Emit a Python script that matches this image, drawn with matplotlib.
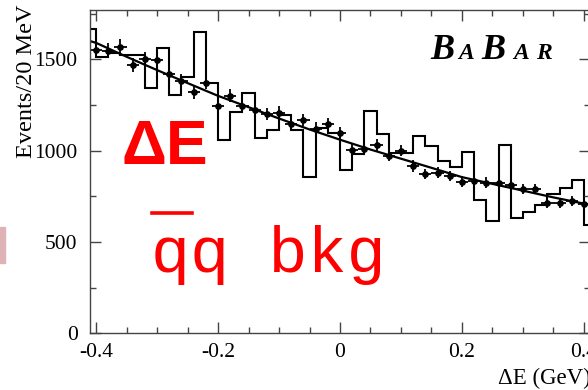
import matplotlib
matplotlib.use("Agg")
import matplotlib.pyplot as plt
from matplotlib.lines import Line2D
from matplotlib.patches import Rectangle
from matplotlib.ticker import MultipleLocator, FuncFormatter
import numpy as np

plt.rcParams["font.family"] = ["Liberation Serif", "DejaVu Serif"]
plt.rcParams["axes.unicode_minus"] = False

# data points (delta E bin centres, events per 20 MeV)
de_points = [-0.40, -0.38, -0.36, -0.34, -0.32, -0.30, -0.28, -0.26, -0.24, -0.22,
             -0.20, -0.18, -0.16, -0.14, -0.12, -0.10, -0.08, -0.06, -0.04, -0.02,
             0.00, 0.02, 0.04, 0.06, 0.08, 0.10, 0.12, 0.14, 0.16, 0.18,
             0.20, 0.22, 0.24, 0.26, 0.28, 0.30, 0.32, 0.34, 0.36, 0.38, 0.40]
events = [1550, 1548, 1570, 1469, 1500, 1497, 1420, 1382, 1320, 1372,
          1245, 1300, 1245, 1223, 1201, 1208, 1145, 1168, 1121, 1145,
          1099, 1004, 1008, 1031, 973, 1000, 916, 872, 880, 861,
          830, 834, 825, 825, 812, 788, 788, 712, 715, 724, 708]

# open histogram (shifted binning)
hist_edges = [-0.42 + 0.02 * k for k in range(43)]
hist_counts = [1665, 1511, 1535, 1524, 1524, 1345, 1562, 1303, 1402, 1647,
               1370, 1060, 1209, 1314, 1068, 1115, 1196, 1113, 854, 1123,
               1097, 896, 979, 1219, 1090, 985, 985, 1080, 1025, 942,
               908, 993, 730, 617, 1033, 630, 665, 703, 763, 797,
               841, 593]

# fitted background shape
fit_x = [-0.41, -0.40, -0.35, -0.30, -0.25, -0.20, -0.15, -0.10, -0.05, 0.00,
         0.05, 0.10, 0.15, 0.20, 0.25, 0.30, 0.35, 0.40, 0.41]
fit_y = [1600, 1590, 1514, 1441, 1370, 1300, 1238, 1176, 1116, 1060,
         1006, 956, 906, 855, 818, 781, 744, 710, 703]

W, H = 588, 390
fig = plt.figure(figsize=(W / 100, H / 100), dpi=100)
ax = fig.add_axes([90 / W, 1 - 333.3 / H, 500 / W, 323.3 / H])

ax.stairs(hist_counts, hist_edges, color="black", lw=1.5)
ax.plot(fit_x, fit_y, color="black", lw=1.6)
ax.errorbar(de_points, events, yerr=np.sqrt(events), xerr=0.01, fmt="o",
            ms=3.8, color="black", elinewidth=1.3, capsize=0)

ax.set_xlim(-0.41, 0.41)
ax.set_ylim(0, 1770)
ax.xaxis.set_major_locator(MultipleLocator(0.2))
ax.xaxis.set_minor_locator(MultipleLocator(0.05))
ax.yaxis.set_major_locator(MultipleLocator(500))
ax.yaxis.set_minor_locator(MultipleLocator(250))
ax.xaxis.set_major_formatter(FuncFormatter(lambda v, p: "%g" % round(v, 2)))
ax.tick_params(which="both", direction="in", top=True, right=True,
               color="#444444", width=1.0, labelsize=15.5)
ax.tick_params(which="major", length=8)
ax.tick_params(which="minor", length=4)
ax.tick_params(axis="x", pad=7)
ax.tick_params(axis="y", pad=9)
for s in ax.spines.values():
    s.set_color("#444444")
    s.set_linewidth(1.0)

fig.text(27 / W, 1 - 5 / H, "Events/20 MeV", rotation=90, ha="center",
         va="top", fontsize=17.5)
fig.text(498 / W, 1 - 378 / H, "\u0394E (GeV)", ha="left", va="center",
         fontsize=16.5)

# BaBar logo
logo = [("B", 430, 26), ("A", 458, 17), ("B", 481, 26), ("A", 513, 17), ("R", 536, 17)]
for ch, px, size in logo:
    fig.text(px / W, 1 - 59 / H, ch, ha="left", va="baseline", fontsize=size,
             fontweight="bold", fontstyle="italic")

red = "#ff0000"
fig.text(122 / W, 1 - 164 / H, "\u0394E", ha="left", va="baseline",
         fontsize=45, fontweight="bold", color=red,
         family=["Liberation Sans", "DejaVu Sans"])
fig.text(151 / W, 1 - 272 / H, "qq bkg", ha="left", va="baseline",
         fontsize=47, color=red, family=["Liberation Mono", "DejaVu Sans Mono"])
fig.add_artist(Line2D([152 / W, 192 / W], [1 - 213 / H, 1 - 213 / H],
                      color=red, lw=2.6, transform=fig.transFigure))

fig.add_artist(Rectangle((0, 1 - 263 / H), 5 / W, 36 / H, color="#ddb3b6",
                         transform=fig.transFigure))

fig.savefig("out.png", dpi=100)
